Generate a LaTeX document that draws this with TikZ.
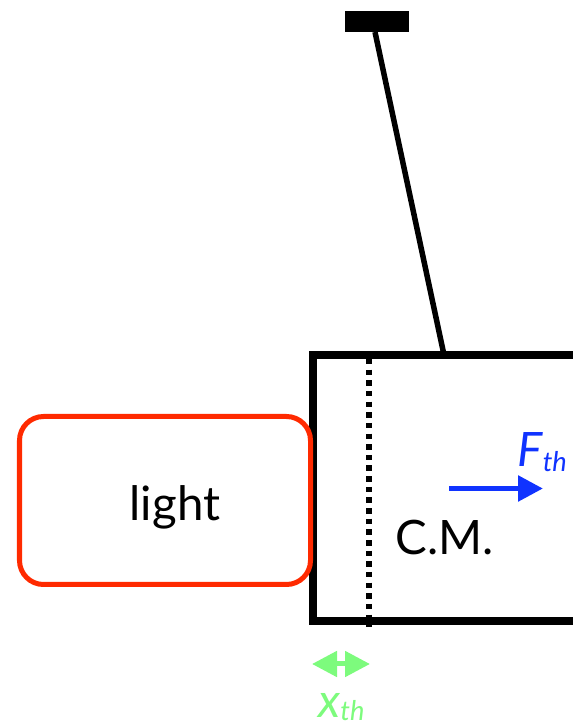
\documentclass[tikz,border=0pt]{standalone}
\usepackage{fontspec}
\setmainfont{Lato}
\usetikzlibrary{positioning, arrows.meta}
\definecolor{mForce}{HTML}{1033FF}
\definecolor{mShift}{HTML}{7DFB7D}
\definecolor{mLight}{HTML}{FF2A00}

\begin{document}
\begin{tikzpicture}[
  every node/.style={inner sep=0pt, align=center},
  support/.style={fill=black, minimum width=1.28cm, minimum height=0.42cm},
  crate/.style={
    draw=black,
    line width=0.16cm,
    minimum width=6.74cm,
    minimum height=5.33cm
  },
  lightbox/.style={
    draw=mLight,
    line width=0.1cm,
    rounded corners=0.48cm,
    minimum width=5.82cm,
    minimum height=3.36cm
  },
  caption/.style={font=\fontsize{27pt}{30pt}\selectfont, anchor=base},
  wire/.style={draw, line width=0.11cm},
  centerline/.style={draw, line width=0.115cm, dash pattern=on 0.11cm off 0.103cm},
  forcearrow/.style={draw=mForce, line width=0.11cm, -{Triangle[length=0.5cm, width=0.5cm]}},
  shiftarrow/.style={draw=mShift, line width=0.1cm, {Triangle[length=0.5cm, width=0.5cm]}-{Triangle[length=0.5cm, width=0.5cm]}}
]

\useasboundingbox (0,0) rectangle (11.46,14.46);
\clip (0,0) rectangle (11.46,14.46);

\node[support] (support) at (7.54,14.03) {};
\node[crate] (crate) at (9.63,4.695) {};
\node[lightbox] (lightbox) at (3.30,4.45) {};

\coordinate (hook) at (7.5,13.82);
\coordinate (knot) at (8.88,7.36);
\coordinate (cmtop) at (7.38,7.28);
\coordinate (cmbottom) at (7.38,1.92);
\coordinate (forcestart) at (8.98,4.69);
\coordinate (forceend) at (10.86,4.69);
\coordinate (shiftleft) at (6.24,1.18);
\coordinate (shiftright) at (7.40,1.18);

\node[caption] (lightlabel) at (3.50,4.04) {light};
\node[caption] (cmlabel) at (8.90,3.36) {C.M.};
\node[caption, text=mForce] (forcelabel) at (10.84,5.12) {\textit{F\kern0.3pt\raisebox{-2.6pt}{\fontsize{15.5pt}{18pt}\selectfont th}}};
\node[caption, text=mShift] (shiftlabel) at (6.83,0.12) {\textit{x\raisebox{-2.2pt}{\fontsize{15.5pt}{18pt}\selectfont th}}};

\draw[wire] (hook) -- (knot);
\draw[centerline] (cmtop) -- (cmbottom);
\draw[forcearrow] (forcestart) -- (forceend);
\draw[shiftarrow] (shiftleft) -- (shiftright);

\end{tikzpicture}
\end{document}
